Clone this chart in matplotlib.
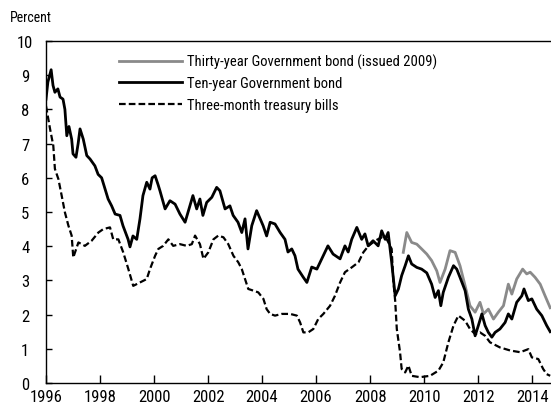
import matplotlib
matplotlib.use("Agg")
import matplotlib.pyplot as plt
from matplotlib import font_manager

# ---------------- data ----------------
ten_year_x = [1996.00, 1996.07, 1996.19, 1996.26, 1996.33, 1996.44, 1996.52, 1996.63, 1996.70, 1996.77,
              1996.85, 1996.95, 1997.00, 1997.11, 1997.19, 1997.26, 1997.38, 1997.51, 1997.63, 1997.81,
              1997.93, 1998.06, 1998.19, 1998.30, 1998.43, 1998.56, 1998.74, 1998.85, 1999.04, 1999.11,
              1999.22, 1999.36, 1999.48, 1999.59, 1999.73, 1999.85, 1999.93, 2000.04, 2000.15, 2000.22,
              2000.41, 2000.59, 2000.78, 2000.96, 2001.15, 2001.33, 2001.44, 2001.58, 2001.70, 2001.81,
              2001.95, 2002.14, 2002.32, 2002.44, 2002.63, 2002.81, 2002.93, 2003.11, 2003.25, 2003.37,
              2003.48, 2003.62, 2003.80, 2003.93, 2004.04, 2004.17, 2004.30, 2004.48, 2004.67, 2004.85,
              2004.96, 2005.10, 2005.22, 2005.33, 2005.52, 2005.66, 2005.84, 2006.03, 2006.21, 2006.44,
              2006.63, 2006.89, 2007.07, 2007.19, 2007.32, 2007.51, 2007.69, 2007.81, 2007.93, 2008.11,
              2008.30, 2008.43, 2008.56, 2008.67, 2008.80, 2008.93, 2009.05, 2009.17, 2009.30, 2009.42,
              2009.54, 2009.73, 2009.91, 2010.10, 2010.28, 2010.41, 2010.53, 2010.62, 2010.71, 2010.90,
              2011.09, 2011.21, 2011.33, 2011.52, 2011.64, 2011.77, 2011.89, 2012.01, 2012.14, 2012.26,
              2012.38, 2012.51, 2012.63, 2012.81, 2013.00, 2013.12, 2013.25, 2013.43, 2013.62, 2013.70,
              2013.86, 2013.99, 2014.17, 2014.36, 2014.54, 2014.67]
ten_year_y = [8.3, 8.8, 9.16, 8.7, 8.5, 8.6, 8.36, 8.3, 8.0, 7.23,
              7.5, 7.13, 6.7, 6.6, 7.0, 7.43, 7.13, 6.65, 6.55, 6.35,
              6.1, 6.0, 5.67, 5.38, 5.18, 4.94, 4.9, 4.6, 4.2, 3.98,
              4.3, 4.2, 4.8, 5.48, 5.87, 5.67, 6.0, 6.06, 5.8, 5.62,
              5.09, 5.33, 5.23, 4.94, 4.7, 5.18, 5.48, 5.09, 5.38, 4.9,
              5.28, 5.43, 5.72, 5.62, 5.09, 5.18, 4.9, 4.7, 4.4, 4.8,
              3.92, 4.6, 5.04, 4.8, 4.6, 4.3, 4.7, 4.65, 4.4, 4.2,
              3.83, 3.92, 3.72, 3.33, 3.1, 2.94, 3.39, 3.33, 3.63, 4.01,
              3.77, 3.63, 4.01, 3.83, 4.2, 4.55, 4.2, 4.36, 4.01, 4.16,
              4.01, 4.45, 4.2, 4.4, 3.53, 2.55, 2.75, 3.14, 3.43, 3.72,
              3.48, 3.38, 3.33, 3.22, 2.89, 2.5, 2.7, 2.26, 2.65, 3.09,
              3.43, 3.33, 3.09, 2.7, 2.16, 1.87, 1.38, 1.68, 2.02, 1.68,
              1.48, 1.34, 1.48, 1.58, 1.77, 2.02, 1.87, 2.36, 2.55, 2.75,
              2.41, 2.46, 2.16, 1.97, 1.68, 1.5]

thirty_year_x = [2009.23, 2009.36, 2009.54, 2009.73, 2009.91, 2010.10, 2010.28, 2010.47, 2010.59, 2010.78,
                 2010.96, 2011.15, 2011.33, 2011.52, 2011.70, 2011.89, 2012.07, 2012.20, 2012.38, 2012.57,
                 2012.75, 2012.94, 2013.12, 2013.25, 2013.43, 2013.65, 2013.80, 2013.93, 2014.11, 2014.30,
                 2014.48, 2014.67]
thirty_year_y = [3.82, 4.4, 4.11, 4.06, 3.92, 3.77, 3.58, 3.28, 2.94, 3.33,
                 3.87, 3.82, 3.43, 2.84, 2.26, 2.07, 2.36, 2.02, 2.16, 1.87,
                 2.07, 2.26, 2.89, 2.6, 3.04, 3.33, 3.19, 3.24, 3.09, 2.89,
                 2.55, 2.2]

three_month_x = [1996.00, 1996.15, 1996.27, 1996.33, 1996.46, 1996.58, 1996.70, 1996.83, 1996.95, 1997.01,
                 1997.20, 1997.44, 1997.69, 1997.94, 1998.12, 1998.37, 1998.49, 1998.68, 1998.86, 1999.05,
                 1999.23, 1999.48, 1999.73, 1999.85, 2000.04, 2000.16, 2000.34, 2000.53, 2000.71, 2000.96,
                 2001.21, 2001.40, 2001.52, 2001.70, 2001.83, 2002.01, 2002.20, 2002.38, 2002.57, 2002.75,
                 2002.94, 2003.12, 2003.25, 2003.37, 2003.49, 2003.68, 2003.86, 2004.05, 2004.17, 2004.30,
                 2004.48, 2004.73, 2005.04, 2005.29, 2005.41, 2005.53, 2005.71, 2005.90, 2006.08, 2006.27,
                 2006.52, 2006.70, 2006.89, 2007.07, 2007.32, 2007.57, 2007.75, 2007.94, 2008.19, 2008.43,
                 2008.62, 2008.80, 2008.86, 2008.93, 2008.99, 2009.11, 2009.17, 2009.30, 2009.42, 2009.54,
                 2009.85, 2010.22, 2010.53, 2010.71, 2010.90, 2011.09, 2011.27, 2011.52, 2011.70, 2011.89,
                 2012.07, 2012.26, 2012.44, 2012.81, 2013.19, 2013.56, 2013.86, 2013.99, 2014.23, 2014.41,
                 2014.54, 2014.67]
three_month_y = [8.1, 7.43, 6.94, 6.26, 5.96, 5.48, 4.99, 4.6, 4.31, 3.67,
                 4.11, 4.01, 4.16, 4.4, 4.5, 4.55, 4.2, 4.2, 3.82, 3.33,
                 2.84, 2.94, 3.04, 3.33, 3.72, 3.92, 4.01, 4.2, 4.01, 4.06,
                 4.01, 4.06, 4.31, 4.06, 3.63, 3.82, 4.2, 4.31, 4.26, 4.06,
                 3.72, 3.53, 3.33, 3.04, 2.75, 2.7, 2.65, 2.46, 2.16, 2.02,
                 1.97, 2.02, 2.02, 1.97, 1.77, 1.48, 1.48, 1.58, 1.87, 2.02,
                 2.26, 2.55, 2.94, 3.24, 3.38, 3.53, 3.82, 4.01, 4.16, 4.26,
                 4.2, 3.92, 3.0, 2.4, 1.58, 0.9, 0.41, 0.31, 0.51, 0.21,
                 0.17, 0.21, 0.36, 0.6, 1.19, 1.68, 1.97, 1.82, 1.58, 1.43,
                 1.48, 1.38, 1.19, 1.04, 0.95, 0.9, 0.99, 0.75, 0.7, 0.41,
                 0.26, 0.21]

series_labels = ["Thirty-year Government bond (issued 2009)",
                 "Ten-year Government bond",
                 "Three-month treasury bills"]
x_ticks = [1996, 1998, 2000, 2002, 2004, 2006, 2008, 2010, 2012, 2014]
y_ticks = [0, 1, 2, 3, 4, 5, 6, 7, 8, 9, 10]

# ---------------- style ----------------
entries = font_manager.fontManager.ttflist
names = {f.name for f in entries}
stretch = "normal"
fam = None
for cand in ["Liberation Sans Narrow", "Roboto Condensed", "DejaVu Sans Condensed",
             "Arial Narrow", "Open Sans Condensed"]:
    if cand in names:
        fam = [cand, "DejaVu Sans"]
        break
if fam is None:
    cond = [f for f in entries if f.name == "DejaVu Sans" and str(f.stretch) in ("condensed", "semi-condensed")]
    if cond:
        fam = ["DejaVu Sans"]
        stretch = "condensed"
    else:
        fam = ["Liberation Sans", "DejaVu Sans"]
plt.rcParams["font.family"] = fam
plt.rcParams["font.stretch"] = stretch

fig = plt.figure(figsize=(5.51, 4.10), dpi=100)
ax = fig.add_axes([46 / 551, 26 / 410, 505 / 551, 342 / 410])

ax.plot(thirty_year_x, thirty_year_y, color="#8a8a8a", lw=2.0, label=series_labels[0], zorder=2)
ax.plot(ten_year_x, ten_year_y, color="black", lw=2.0, label=series_labels[1], zorder=3)
ax.plot(three_month_x, three_month_y, color="black", lw=1.6, dashes=(3, 1.4),
        label=series_labels[2], zorder=4)

ax.set_xlim(1996, 2014.70)
ax.set_ylim(0, 10)
ax.set_xticks(x_ticks)
ax.set_yticks(y_ticks)
ax.spines["right"].set_visible(False)
for s in ["left", "bottom", "top"]:
    ax.spines[s].set_linewidth(1.0)
ax.tick_params(axis="x", direction="in", length=6, width=1, labelsize=12, pad=4)
ax.tick_params(axis="y", direction="in", length=4, width=1, labelsize=12, pad=15)
for lbl in ax.get_yticklabels():
    lbl.set_horizontalalignment("center")

fig.text(10 / 551, 1 - 18 / 410, "Percent", fontsize=10, va="center", ha="left")

ax.legend(loc="upper left", bbox_to_anchor=(67 / 505, 1 - 7 / 342), frameon=False,
          handlelength=4.3, handletextpad=0.4, labelspacing=0.5, fontsize=10.5,
          borderaxespad=0)

fig.savefig("out.png", dpi=100)
